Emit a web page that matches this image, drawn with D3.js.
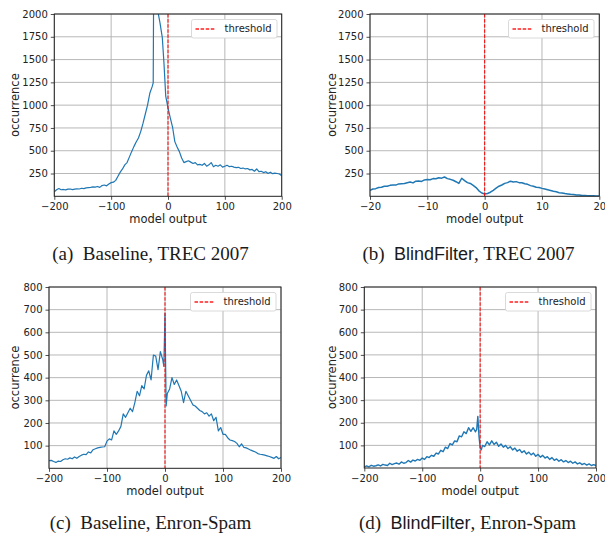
<!DOCTYPE html>
<html><head><meta charset="utf-8">
<script src="https://cdn.jsdelivr.net/npm/d3@7"></script>
<style>
body{margin:0;background:#fff;}
svg{display:block;}
</style></head>
<body>
<svg id="chart" width="605" height="536"></svg>
<script>
// ---------- DATA ----------
const xA = [-200,-196,-192,-188,-184,-180,-176,-172,-168,-164,-160,-156,-152,-148,-144,-140,-136,-132,-128,-124,-120,-116,-112,-108,-104,-100,-96,-92,-88,-84,-80,-76,-72,-68,-64,-60,-56,-52,-48,-44,-40,-36,-32,-28,-26,-25,-22,-19,-17,-14,-10,-7,-4,0,4,8,12,16,20,24,28,32,36,40,44,48,52,56,60,64,68,72,76,80,84,88,92,96,100,104,108,112,116,120,124,128,132,136,140,144,148,152,156,160,164,168,172,176,180,184,188,192,196,200];
const yA = [50,72,85,72,75,70,78,80,74,78,82,80,88,85,92,95,98,104,100,108,98,118,124,115,135,150,155,175,220,265,300,345,370,430,490,545,595,640,710,800,900,1000,1130,1200,1245,2600,2800,2300,2000,1900,1740,1450,1100,970,860,760,600,540,490,420,370,380,390,375,360,370,345,350,340,360,330,345,370,325,340,330,345,320,330,340,325,330,320,315,318,305,310,300,305,290,295,275,300,270,275,260,270,250,265,248,255,250,245,225];

const xB = [-20,-19.5,-19,-18.5,-18,-17.5,-17,-16.5,-16,-15.5,-15,-14.5,-14,-13.5,-13,-12.5,-12,-11.5,-11,-10.5,-10,-9.5,-9,-8.5,-8,-7.5,-7,-6.5,-6,-5.5,-5,-4.5,-4,-3.5,-3,-2.5,-2,-1.5,-1,-0.5,0,0.5,1,1.5,2,2.5,3,3.5,4,4.5,5,5.5,6,6.5,7,7.5,8,8.5,9,9.5,10,10.5,11,11.5,12,12.5,13,13.5,14,14.5,15,15.5,16,16.5,17,17.5,18,18.5,19,19.5,20];
const yB = [65,80,84,97,99,110,111,120,124,123,136,139,140,149,157,147,166,169,163,180,184,182,194,192,204,199,212,194,186,176,160,141,198,172,150,141,120,96,60,36,25,31,45,66,90,111,124,142,150,166,157,161,150,149,137,131,117,111,99,96,87,79,71,63,55,49,40,36,30,26,22,19,15,13,10,9,7,6,5,4,3];

const xC = [-200,-196,-192,-188,-184,-180,-176,-172,-168,-164,-160,-156,-152,-148,-144,-140,-136,-132,-128,-124,-120,-116,-112,-108,-104,-100,-96,-92,-88,-84,-80,-76,-72,-68,-64,-60,-56,-52,-48,-44,-40,-36,-32,-28,-24,-20,-16,-12,-8,-4,-2,0,2,4,8,12,16,20,24,28,32,36,40,44,48,52,56,60,64,68,72,76,80,84,88,92,96,100,104,108,112,116,120,124,128,132,136,140,144,148,152,156,160,164,168,172,176,180,184,188,192,196,200];
const yC = [34,35,30,26,32,30,38,42,40,46,42,50,44,52,58,62,60,72,68,82,86,90,92,94,95,120,130,125,165,150,165,185,240,225,245,265,250,290,340,320,365,350,410,430,390,500,495,435,515,480,450,684,275,330,350,400,370,390,365,340,290,340,320,300,280,275,265,255,250,240,245,230,240,210,225,165,180,150,150,135,125,122,118,110,95,108,92,90,85,80,76,72,65,62,60,58,55,52,48,44,52,42,48];

const xD = [-200,-196,-192,-188,-184,-180,-176,-172,-168,-164,-160,-156,-152,-148,-144,-140,-136,-132,-128,-124,-120,-116,-112,-108,-104,-100,-96,-92,-88,-84,-80,-76,-72,-68,-64,-60,-56,-52,-48,-44,-40,-36,-32,-28,-24,-20,-16,-12,-8,-6,-4,-2,0,2,4,8,12,16,20,24,28,32,36,40,44,48,52,56,60,64,68,72,76,80,84,88,92,96,100,104,108,112,116,120,124,128,132,136,140,144,148,152,156,160,164,168,172,176,180,184,188,192,196,200];
const yD = [4,9,5,12,8,10,14,9,16,13,11,21,15,19,22,17,27,21,24,33,26,35,31,38,34,44,38,50,46,56,52,66,62,78,72,92,86,108,102,120,116,142,138,160,152,178,162,178,160,170,228,140,92,80,100,95,116,102,120,104,114,96,106,92,100,86,94,80,88,74,82,68,76,62,70,58,66,52,60,48,56,44,50,38,46,34,40,30,37,27,33,24,30,21,27,18,23,15,20,13,18,11,15,11];

const ticksX200 = [-200,-100,0,100,200];
const ticksX20 = [-20,-10,0,10,20];
const ticksY2000 = [250,500,750,1000,1250,1500,1750,2000];
const ticksY800 = [100,200,300,400,500,600,700,800];
const captions = ["(a)", "(b)", "(c)", "(d)"];

// ---------- DRAW ----------
const svg = d3.select("#chart");
const panels = [
  {id:"a", xs:xA, ys:yA, xd:[-200,200], yd:[0,2000], xt:ticksX200, yt:ticksY2000, box:[54.3,281.7,14,196.3], lw:1.2},
  {id:"b", xs:xB, ys:yB, xd:[-20,20], yd:[0,2000], xt:ticksX20, yt:ticksY2000, box:[370,599.3,14,196.3], lw:1.5},
  {id:"c", xs:xC, ys:yC, xd:[-200,200], yd:[0,800], xt:ticksX200, yt:ticksY800, box:[49,281,287,468.3], lw:1.2},
  {id:"d", xs:xD, ys:yD, xd:[-200,200], yd:[0,800], xt:ticksX200, yt:ticksY800, box:[364.3,596,287,468], lw:1.4}
];
const F = "'DejaVu Sans', sans-serif";
panels.forEach(p => {
  const [l, r, t, b] = p.box;
  const x = d3.scaleLinear().domain(p.xd).range([l, r]);
  const y = d3.scaleLinear().domain(p.yd).range([b, t]);
  const g = svg.append("g");
  g.append("clipPath").attr("id", "clip-" + p.id)
    .append("rect").attr("x", l).attr("y", t).attr("width", r - l).attr("height", b - t);
  // grid
  g.append("g").selectAll("line").data(p.xt).join("line")
    .attr("x1", d => x(d)).attr("x2", d => x(d)).attr("y1", t).attr("y2", b)
    .attr("stroke", "#b0b0b0").attr("stroke-width", 0.9);
  g.append("g").selectAll("line").data(p.yt).join("line")
    .attr("x1", l).attr("x2", r).attr("y1", d => y(d)).attr("y2", d => y(d))
    .attr("stroke", "#b0b0b0").attr("stroke-width", 0.9);
  // data line
  const pts = p.xs.map((v, i) => [v, p.ys[i]]);
  g.append("path").datum(pts)
    .attr("clip-path", "url(#clip-" + p.id + ")")
    .attr("fill", "none").attr("stroke", "#1f77b4").attr("stroke-width", p.lw)
    .attr("stroke-linejoin", "round")
    .attr("d", d3.line().x(d => x(d[0])).y(d => y(d[1])));
  // threshold
  g.append("line").attr("x1", x(0)).attr("x2", x(0)).attr("y1", t).attr("y2", b)
    .attr("stroke", "#ff0000").attr("stroke-width", 1).attr("stroke-dasharray", "3.5,1.6");
  // axes
  const ax = g.append("g").attr("transform", `translate(0,${b})`)
    .call(d3.axisBottom(x).tickValues(p.xt).tickSize(3.5).tickPadding(3).tickFormat(d3.format("d")));
  const ay = g.append("g").attr("transform", `translate(${l},0)`)
    .call(d3.axisLeft(y).tickValues(p.yt).tickSize(3.5).tickPadding(3).tickFormat(d3.format("d")));
  [ax, ay].forEach(a => {
    a.select(".domain").remove();
    a.selectAll("text").attr("font-family", F).attr("font-size", 10).attr("fill", "#222");
    a.selectAll("line").attr("stroke", "#222").attr("stroke-width", 0.8);
  });
  // spines
  g.append("rect").attr("x", l).attr("y", t).attr("width", r - l).attr("height", b - t)
    .attr("fill", "none").attr("stroke", "#222").attr("stroke-width", 1);
  // labels
  g.append("text").attr("x", (l + r) / 2).attr("y", b + 27).attr("text-anchor", "middle")
    .attr("font-family", F).attr("font-size", 11.5).attr("fill", "#222").text("model output");
  const yl = (p.id === "a" || p.id === "c") ? 19 : 335.5;
  g.append("text").attr("transform", `translate(${yl},${(t + b) / 2}) rotate(-90)`)
    .attr("text-anchor", "middle").attr("font-family", F).attr("font-size", 11.5).attr("fill", "#222")
    .text("occurrence");
  // legend
  const lw = 85.5, lh = 18.5, lx = Math.round(r - 5.5 - lw) + 0.5, ly = Math.round(t + 5.3);
  const lg = g.append("g");
  lg.append("rect").attr("x", lx).attr("y", ly + 0.5).attr("width", lw).attr("height", lh).attr("rx", 2)
    .attr("fill", "#fff").attr("stroke", "#d0d0d0").attr("stroke-width", 0.8);
  lg.append("line").attr("x1", lx + 4).attr("x2", lx + 24).attr("y1", ly + 10).attr("y2", ly + 10)
    .attr("stroke", "#ff2020").attr("stroke-width", 1.3).attr("stroke-dasharray", "3.5,1.6");
  lg.append("text").attr("x", lx + 33).attr("y", ly + 13.3)
    .attr("font-family", F).attr("font-size", 10).attr("fill", "#222").text("threshold");
});

// captions
const capData = [
  {cx:150.5, y:260, tag:captions[0], name:"Baseline", sans:false, ds:"TREC 2007"},
  {cx:468.5, y:260, tag:captions[1], name:"BlindFilter", sans:true, ds:"TREC 2007"},
  {cx:150.5, y:529, tag:captions[2], name:"Baseline", sans:false, ds:"Enron-Spam"},
  {cx:467.5, y:529, tag:captions[3], name:"BlindFilter", sans:true, ds:"Enron-Spam"}
];
capData.forEach(c => {
  const t = svg.append("text").attr("x", c.cx).attr("y", c.y).attr("text-anchor", "middle")
    .attr("font-family", "'Liberation Serif', 'Times New Roman', serif").attr("font-size", 19).attr("fill", "#1a1a1a");
  t.append("tspan").text(c.tag + "\u2002");
  t.append("tspan").attr("font-family", c.sans ? "'Liberation Sans', Arial, sans-serif" : null)
    .attr("font-size", c.sans ? 18 : null).text(c.name);
  t.append("tspan").text(", " + c.ds);
});
</script>
</body></html>
